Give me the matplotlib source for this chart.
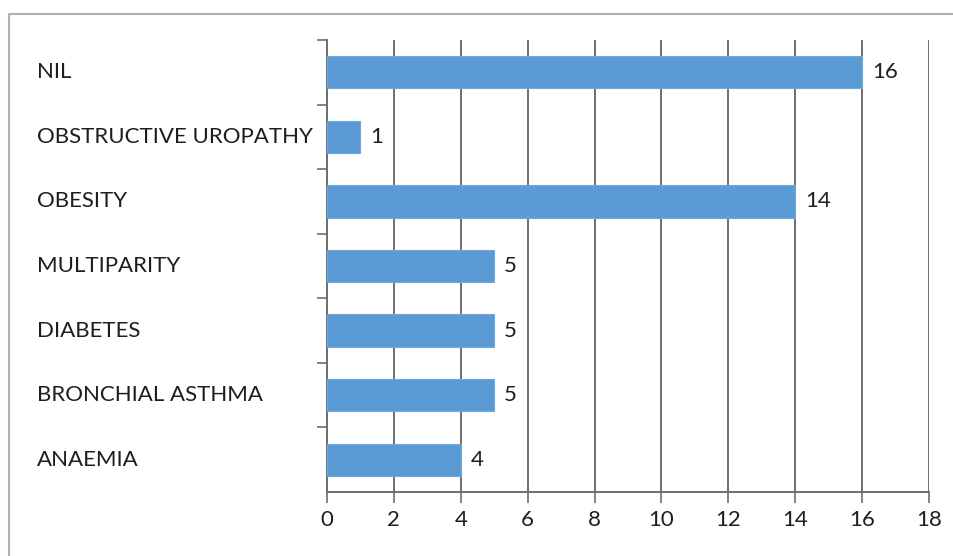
import matplotlib.pyplot as plt
import matplotlib.transforms as mtransforms

# risk factors, bottom to top
causes = ['ANAEMIA', 'BRONCHIAL ASTHMA', 'DIABETES', 'MULTIPARITY',
          'OBESITY', 'OBSTRUCTIVE UROPATHY', 'NIL']
counts = [4, 5, 5, 5, 14, 1, 16]
xticks = [0, 2, 4, 6, 8, 10, 12, 14, 16, 18]

plt.rcParams['font.family'] = ['Lato', 'DejaVu Sans']
grid_col = '#6e6e6e'
bar_col = '#5b9bd5'
txt_col = '#1e1e1e'

fig = plt.figure(figsize=(9.54, 5.56), dpi=100)
ax = fig.add_axes([327 / 954, 1 - 492 / 556, 602 / 954, 452 / 556])

pos = list(range(len(causes)))
ax.barh(pos, counts, height=0.5, color=bar_col, edgecolor='#6fa8dc',
        linewidth=0.8, zorder=3)

for y, v in zip(pos, counts):
    ax.annotate(str(v), (v, y), xytext=(7, 0), textcoords='offset points',
                va='center', ha='left', fontsize=16, color=txt_col)

ax.set_xlim(0, 18)
ax.set_ylim(-0.5, len(causes) - 0.5)
ax.set_xticks(xticks)
ax.set_xticklabels([str(t) for t in xticks], fontsize=16, color=txt_col)
ax.tick_params(axis='x', length=8, width=1.2, color=grid_col, pad=5)
ax.xaxis.grid(True, color=grid_col, linewidth=1.4, zorder=0)

# y axis: ticks between categories, labels left aligned
ax.set_yticks([p + 0.5 for p in pos])
ax.set_yticklabels([])
ax.tick_params(axis='y', length=7, width=1.2, color=grid_col)
trans = mtransforms.blended_transform_factory(fig.transFigure, ax.transData)
for y, name in zip(pos, causes):
    ax.text(37 / 954, y, name, transform=trans, ha='left', va='center',
            fontsize=16, color=txt_col)

for side in ['top', 'right']:
    ax.spines[side].set_visible(False)
for side in ['left', 'bottom']:
    ax.spines[side].set_color(grid_col)
    ax.spines[side].set_linewidth(1.4)

# outer frame
fig.add_artist(plt.Line2D([9.5 / 954, 9.5 / 954, 1.01], [-0.01, 1 - 13.5 / 556, 1 - 13.5 / 556],
                          transform=fig.transFigure, color='#b0b0b0', linewidth=1.5))

fig.savefig('out.png', dpi=100)
